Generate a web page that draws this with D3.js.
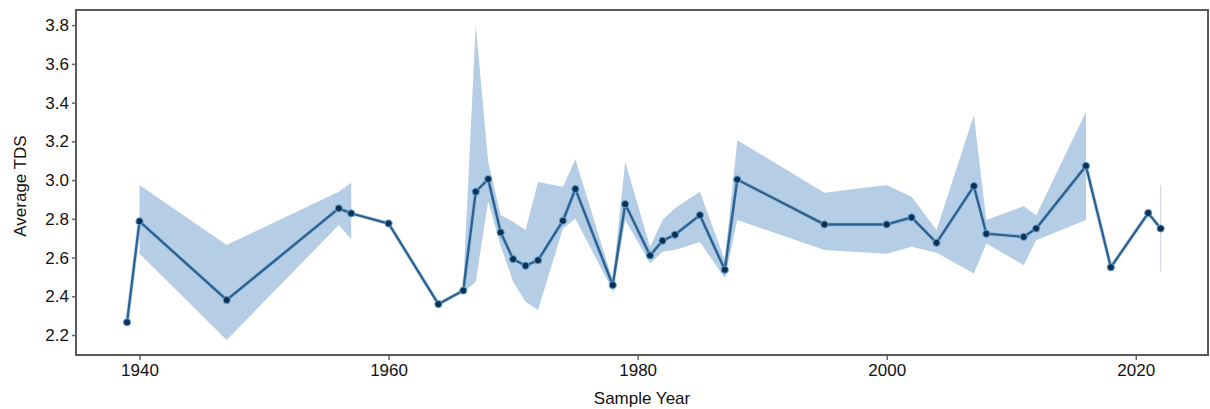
<!DOCTYPE html>
<html>
<head>
<meta charset="utf-8">
<script src="https://cdn.jsdelivr.net/npm/d3@7"></script>
<style>
    body { margin: 0; background: #ffffff; }
    svg { display: block; font-family: "Liberation Sans", Arial, sans-serif; }
    .axis text { font-size: 17px; fill: #111111; }
    .axis path { display: none; }
    .axis line { stroke: #666666; stroke-width: 1.5; }
</style>
</head>
<body>
<svg width="1210" height="409"></svg>
<script>
/*global d3 */

var years = [1939, 1940, 1947, 1956, 1957, 1960, 1964, 1966, 1967, 1968,
    1969, 1970, 1971, 1972, 1974, 1975, 1978, 1979, 1981, 1982, 1983, 1985,
    1987, 1988, 1995, 2000, 2002, 2004, 2007, 2008, 2011, 2012, 2016, 2018,
    2021, 2022];
var meanTds = [2.266, 2.787, 2.381, 2.854, 2.828, 2.776, 2.36, 2.43, 2.94,
    3.005, 2.73, 2.592, 2.558, 2.586, 2.79, 2.954, 2.458, 2.876, 2.611,
    2.687, 2.718, 2.819, 2.537, 3.003, 2.771, 2.771, 2.807, 2.676, 2.969,
    2.723, 2.707, 2.75, 3.073, 2.55, 2.83, 2.75];
// confidence band, null where a year has one sample only
var lowerTds = [null, 2.62, 2.174, 2.768, 2.694, null, null, 2.42, 2.475,
    2.89, 2.66, 2.475, 2.372, 2.329, 2.75, 2.80, 2.43, 2.794, 2.57, 2.63,
    2.639, 2.68, 2.493, 2.794, 2.639, 2.62, 2.656, 2.625, 2.518, 2.673,
    2.561, 2.69, 2.794, null, null, 2.527];
var upperTds = [null, 2.974, 2.665, 2.94, 2.986, null, null, 2.46, 3.80,
    3.094, 2.82, 2.785, 2.742, 2.99, 2.965, 3.108, 2.48, 3.094, 2.656, 2.794,
    2.854, 2.94, 2.587, 3.206, 2.934, 2.974, 2.914, 2.742, 3.335, 2.794,
    2.866, 2.819, 3.352, null, null, 2.974];
var xTicks = [1940, 1960, 1980, 2000, 2020];
var yTicks = [2.2, 2.4, 2.6, 2.8, 3.0, 3.2, 3.4, 3.6, 3.8];

(function () {
    "use strict";

    var svg = d3.select("svg");
    var left = 76;
    var right = 1208;
    var top = 10;
    var bottom = 355;

    var rows = years.map(function (y, i) {
        return {year: y, mean: meanTds[i], lo: lowerTds[i], hi: upperTds[i]};
    });

    var xScale = d3.scaleLinear()
        .domain([1934.9, 2025.8])
        .range([left, right]);
    var yScale = d3.scaleLinear()
        .domain([2.097, 3.878])
        .range([bottom, top]);

    var hasBand = function (d) {
        return d.lo !== null && d.hi !== null;
    };

    var band = d3.area()
        .defined(hasBand)
        .x(function (d) {
            return xScale(d.year);
        })
        .y0(function (d) {
            return yScale(d.lo);
        })
        .y1(function (d) {
            return yScale(d.hi);
        });

    svg.append("path")
        .datum(rows)
        .attr("fill", "#b6cee5")
        .attr("d", band);

    // years whose band has no neighbour show up as a thin vertical line
    var lonely = rows.filter(function (d, i) {
        var prev = rows[i - 1];
        var next = rows[i + 1];
        return hasBand(d) && !(prev && hasBand(prev)) &&
                !(next && hasBand(next));
    });
    svg.selectAll("line.lonely")
        .data(lonely)
        .enter()
        .append("line")
        .attr("class", "lonely")
        .attr("x1", function (d) {
            return xScale(d.year);
        })
        .attr("x2", function (d) {
            return xScale(d.year);
        })
        .attr("y1", function (d) {
            return yScale(d.lo);
        })
        .attr("y2", function (d) {
            return yScale(d.hi);
        })
        .attr("stroke", "#d2dce6")
        .attr("stroke-width", 1.2);

    var meanLine = d3.line()
        .x(function (d) {
            return xScale(d.year);
        })
        .y(function (d) {
            return yScale(d.mean);
        });

    svg.append("path")
        .datum(rows)
        .attr("fill", "none")
        .attr("stroke", "#6aaedc")
        .attr("stroke-width", 4)
        .attr("stroke-opacity", 0.35)
        .attr("d", meanLine);
    svg.append("path")
        .datum(rows)
        .attr("fill", "none")
        .attr("stroke", "#2f6190")
        .attr("stroke-width", 2.4)
        .attr("d", meanLine);

    svg.selectAll("circle.pt")
        .data(rows)
        .enter()
        .append("circle")
        .attr("class", "pt")
        .attr("cx", function (d) {
            return xScale(d.year);
        })
        .attr("cy", function (d) {
            return yScale(d.mean);
        })
        .attr("r", 3.6)
        .attr("fill", "#10304f")
        .attr("stroke", "#5fa6dc")
        .attr("stroke-width", 1);

    var xAxis = d3.axisBottom(xScale)
        .tickValues(xTicks)
        .tickFormat(d3.format("d"))
        .tickSizeInner(5)
        .tickPadding(4);
    var yAxis = d3.axisLeft(yScale)
        .tickValues(yTicks)
        .tickFormat(d3.format(".1f"))
        .tickSizeInner(4)
        .tickPadding(3);

    svg.append("g")
        .attr("class", "axis")
        .attr("transform", "translate(0," + bottom + ")")
        .call(xAxis);
    svg.append("g")
        .attr("class", "axis")
        .attr("transform", "translate(" + left + ",0)")
        .call(yAxis);

    svg.append("rect")
        .attr("x", left)
        .attr("y", top)
        .attr("width", right - left)
        .attr("height", bottom - top)
        .attr("fill", "none")
        .attr("stroke", "#5a5a5a")
        .attr("stroke-width", 2);

    svg.append("text")
        .attr("x", (left + right) / 2)
        .attr("y", 404)
        .attr("text-anchor", "middle")
        .attr("font-size", 17)
        .attr("fill", "#111111")
        .text("Sample Year");

    svg.append("text")
        .attr("transform", "translate(26," + 186 + ") rotate(-90)")
        .attr("text-anchor", "middle")
        .attr("font-size", 17)
        .attr("fill", "#111111")
        .text("Average TDS");
}());
</script>
</body>
</html>
